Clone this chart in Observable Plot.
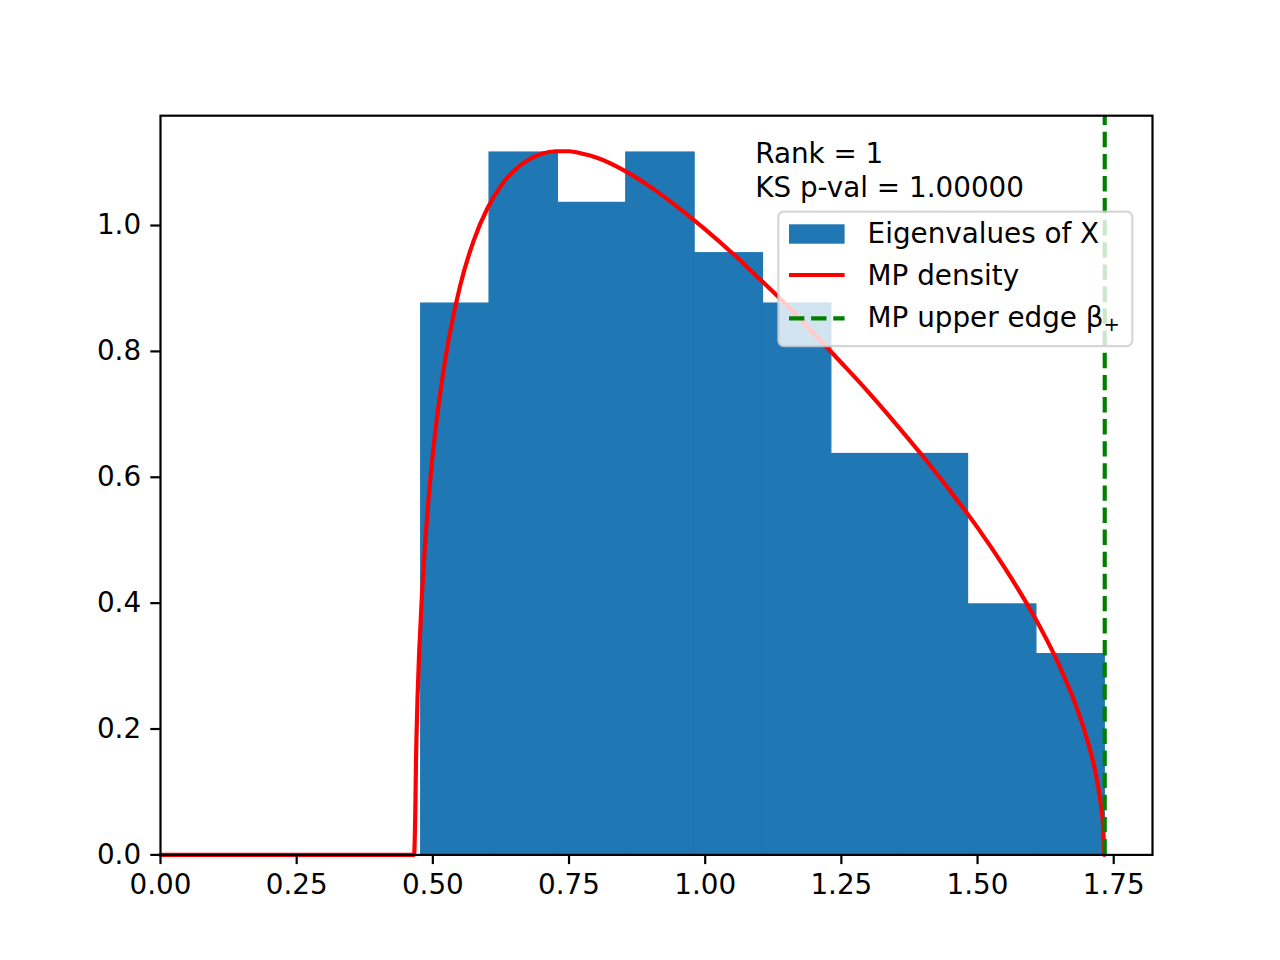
<!DOCTYPE html>
<html><head><meta charset="utf-8">
<script src="https://cdn.jsdelivr.net/npm/d3@7"></script>
<script src="https://cdn.jsdelivr.net/npm/@observablehq/plot@0.6"></script>
<style>html,body{margin:0;padding:0;background:#fff;} #chart{width:1280px;height:960px;}</style>
</head><body><div id="chart"></div>
<script>
// Histogram (density) of eigenvalues
const binEdges = [0.4786, 0.6041, 0.7296, 0.8551, 0.9806, 1.1061, 1.2316, 1.3571, 1.4826, 1.6081, 1.7336];
const binDensity = [0.876, 1.116, 1.036, 1.116, 0.956, 0.876, 0.637, 0.637, 0.398, 0.319];
// Marchenko–Pastur density curve
const mpX = [0, 0.4655, 0.468, 0.469, 0.470, 0.472, 0.475, 0.480, 0.485, 0.490,
  0.500, 0.510, 0.520, 0.530, 0.550, 0.575, 0.600, 0.625, 0.650, 0.675,
  0.700, 0.725, 0.750, 0.775, 0.800, 0.850, 0.900, 0.950, 1.000, 1.050,
  1.100, 1.150, 1.200, 1.250, 1.300, 1.350, 1.400, 1.450, 1.500, 1.550,
  1.600, 1.650, 1.680, 1.700, 1.715, 1.725, 1.7305, 1.7325];
const mpY = [0, 0, 0.082, 0.146, 0.189, 0.253, 0.324, 0.414, 0.484, 0.543,
  0.637, 0.711, 0.772, 0.823, 0.904, 0.976, 1.027, 1.063, 1.088, 1.104,
  1.114, 1.118, 1.118, 1.114, 1.108, 1.088, 1.061, 1.029, 0.994, 0.956,
  0.915, 0.873, 0.828, 0.782, 0.735, 0.685, 0.633, 0.578, 0.520, 0.456,
  0.385, 0.301, 0.239, 0.187, 0.137, 0.089, 0.046, 0];
const betaPlus = [1.7335];
const xTicks = [0, 0.25, 0.5, 0.75, 1.0, 1.25, 1.5, 1.75];
const yTicks = [0, 0.2, 0.4, 0.6, 0.8, 1.0];
const annotLines = ["Rank = 1", "KS p-val = 1.00000"];
const legendLabels = ["Eigenvalues of X", "MP density", "MP upper edge β"];

const BLUE = "#1f77b4", RED = "red", GREEN = "green";
const FS = 27.8;
const FONT = "'DejaVu Sans', sans-serif";

const bins = binDensity.map((d, i) => ({x1: binEdges[i], x2: binEdges[i + 1], density: d}));
const curve = mpX.map((x, i) => ({x, y: mpY[i]}));

const chart = Plot.plot({
  width: 1280, height: 960,
  marginLeft: 160, marginRight: 128, marginTop: 115.2, marginBottom: 105.6,
  style: {fontFamily: FONT, fontSize: FS + "px", color: "black", background: "white", overflow: "visible"},
  x: {domain: [0, 1.8212], label: null},
  y: {domain: [0, 1.1745], label: null},
  marks: [
    Plot.rect(bins, {x1: "x1", x2: "x2", y1: 0, y2: "density", fill: BLUE, stroke: BLUE, strokeWidth: 1.2}),
    Plot.line(curve, {x: "x", y: "y", stroke: RED, strokeWidth: 4.17, curve: "monotone-x"}),
    Plot.ruleX(betaPlus, {x: d => d, y1: 0, y2: 1.1745, stroke: GREEN, strokeWidth: 4.17, strokeDasharray: "15.4,6.7"}),
    Plot.axisX({ticks: xTicks, tickFormat: d3.format(".2f"), tickSize: 9.7, tickPadding: 9.7, strokeWidth: 2.2, fontSize: FS, label: null}),
    Plot.axisY({ticks: yTicks, tickFormat: d3.format(".1f"), tickSize: 9.7, tickPadding: 9.7, strokeWidth: 2.2, fontSize: FS, label: null}),
    Plot.frame({stroke: "black", strokeWidth: 2.2})
  ]
});
document.getElementById("chart").appendChild(chart);

const svg = d3.select(chart);
// annotation text
const ann = svg.append("g").attr("font-family", FONT).attr("font-size", FS).attr("fill", "black").attr("text-anchor", "start");
annotLines.forEach((t, i) => {
  ann.append("text").attr("x", 755.2).attr("y", 163.4 + i * 33.4).attr("text-anchor", "start").text(t);
});

// legend
const lg = svg.append("g").attr("font-family", FONT).attr("font-size", FS).attr("text-anchor", "start");
lg.append("rect").attr("x", 778.3).attr("y", 211.7).attr("width", 354).attr("height", 134.5)
  .attr("rx", 5.6).attr("fill", "white").attr("fill-opacity", 0.8)
  .attr("stroke", "#cccccc").attr("stroke-opacity", 0.8).attr("stroke-width", 2.2);
lg.append("rect").attr("x", 789).attr("y", 224.3).attr("width", 55.6).attr("height", 19.4).attr("fill", BLUE);
lg.append("line").attr("x1", 789).attr("x2", 844.6).attr("y1", 275).attr("y2", 275)
  .attr("stroke", RED).attr("stroke-width", 4.17);
lg.append("line").attr("x1", 789).attr("x2", 844.6).attr("y1", 318.3).attr("y2", 318.3)
  .attr("stroke", GREEN).attr("stroke-width", 4.17).attr("stroke-dasharray", "15.4,6.7");
legendLabels.forEach((t, i) => {
  const tx = lg.append("text").attr("x", 867.6).attr("y", 243.3 + i * 41.7).attr("text-anchor", "start").attr("fill", "black").text(t);
  if (i === 2) tx.append("tspan").attr("font-size", 19.5).attr("dy", 4.5).text("+");
});
</script>
</body></html>
